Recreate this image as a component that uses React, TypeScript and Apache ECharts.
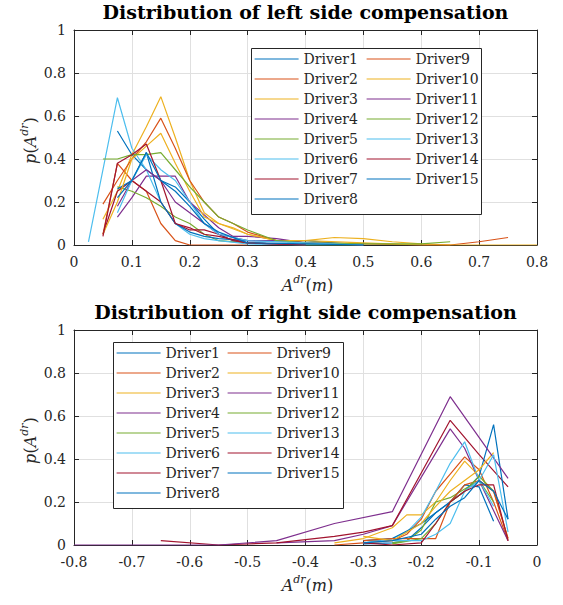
import React, { useEffect, useRef } from "react";
import * as echarts from "echarts";

// ---------- data ----------
const drivers = [
  "Driver1", "Driver2", "Driver3", "Driver4", "Driver5", "Driver6", "Driver7", "Driver8",
  "Driver9", "Driver10", "Driver11", "Driver12", "Driver13", "Driver14", "Driver15",
];
const palette = ["#0072BD", "#D95319", "#EDB120", "#7E2F8E", "#77AC30", "#4DBEEE", "#A2142F"];

const xTicksLeft = [0, 0.8, 0.1];
const xTicksRight = [-0.8, 0, 0.1];
const yTicks = [0, 1, 0.2];

// left side compensation: [A, p]
const L1 = [[0.075, 0.53], [0.1, 0.42], [0.125, 0.35], [0.15, 0.3], [0.175, 0.27], [0.2, 0.2], [0.225, 0.12], [0.25, 0.05], [0.275, 0.02], [0.3, 0.01], [0.35, 0.005], [0.4, 0], [0.5, 0]];
const L2 = [[0.05, 0.05], [0.075, 0.38], [0.1, 0.3], [0.125, 0.25], [0.15, 0.1], [0.175, 0.02], [0.2, 0], [0.225, 0], [0.3, 0]];
const L3 = [[0.05, 0.12], [0.075, 0.25], [0.1, 0.42], [0.125, 0.55], [0.15, 0.69], [0.175, 0.5], [0.2, 0.3], [0.225, 0.15], [0.25, 0.1], [0.275, 0.08], [0.3, 0.05], [0.35, 0.02], [0.4, 0.02], [0.45, 0.035], [0.5, 0.03], [0.55, 0.015], [0.6, 0.005], [0.65, 0]];
const L4 = [[0.075, 0.13], [0.1, 0.22], [0.125, 0.32], [0.15, 0.32], [0.175, 0.32], [0.2, 0.2], [0.225, 0.14], [0.25, 0.08], [0.275, 0.04], [0.3, 0.04], [0.35, 0.03], [0.4, 0.01], [0.45, 0.005], [0.5, 0]];
const L5 = [[0.075, 0.27], [0.1, 0.25], [0.125, 0.22], [0.15, 0.18], [0.175, 0.13], [0.2, 0.1], [0.225, 0.05], [0.25, 0.02], [0.3, 0.01], [0.4, 0], [0.5, 0]];
const L6 = [[0.025, 0.015], [0.075, 0.685], [0.1, 0.45], [0.125, 0.35], [0.15, 0.2], [0.175, 0.1], [0.2, 0.05], [0.225, 0.03], [0.25, 0.02], [0.3, 0.005], [0.4, 0]];
const L7 = [[0.05, 0.05], [0.075, 0.25], [0.1, 0.3], [0.125, 0.25], [0.15, 0.2], [0.175, 0.1], [0.2, 0.07], [0.225, 0.07], [0.25, 0.05], [0.275, 0.02], [0.3, 0.01], [0.4, 0]];
const L8 = [[0.075, 0.26], [0.1, 0.3], [0.125, 0.43], [0.15, 0.2], [0.175, 0.1], [0.2, 0.06], [0.225, 0.04], [0.25, 0.03], [0.3, 0.02], [0.35, 0.02], [0.4, 0.02], [0.45, 0.01], [0.5, 0]];
const L9 = [[0.05, 0.19], [0.075, 0.3], [0.1, 0.4], [0.125, 0.48], [0.15, 0.59], [0.175, 0.45], [0.2, 0.3], [0.225, 0.2], [0.25, 0.13], [0.275, 0.1], [0.3, 0.06], [0.35, 0.02], [0.4, 0.01], [0.5, 0.005], [0.6, 0], [0.65, 0], [0.7, 0.015], [0.75, 0.035]];
const L10 = [[0.05, 0.05], [0.075, 0.2], [0.1, 0.4], [0.125, 0.46], [0.15, 0.52], [0.175, 0.38], [0.2, 0.25], [0.225, 0.13], [0.25, 0.1], [0.3, 0.05], [0.35, 0.02], [0.4, 0.02], [0.5, 0.01], [0.6, 0], [0.7, 0], [0.8, 0]];
const L11 = [[0.075, 0.18], [0.1, 0.3], [0.125, 0.35], [0.15, 0.3], [0.175, 0.2], [0.2, 0.15], [0.225, 0.1], [0.25, 0.05], [0.3, 0.02], [0.35, 0.02], [0.4, 0.01], [0.5, 0]];
const L12 = [[0.05, 0.4], [0.075, 0.4], [0.1, 0.42], [0.125, 0.42], [0.15, 0.43], [0.175, 0.35], [0.2, 0.27], [0.225, 0.2], [0.25, 0.13], [0.3, 0.07], [0.35, 0.02], [0.4, 0.01], [0.5, 0.005], [0.6, 0.005], [0.65, 0.015]];
const L13 = [[0.075, 0.15], [0.1, 0.3], [0.125, 0.42], [0.15, 0.35], [0.175, 0.3], [0.2, 0.2], [0.225, 0.1], [0.25, 0.05], [0.3, 0.02], [0.4, 0.01], [0.5, 0]];
const L14 = [[0.05, 0.04], [0.075, 0.38], [0.1, 0.42], [0.125, 0.47], [0.15, 0.3], [0.175, 0.1], [0.2, 0.08], [0.225, 0.05], [0.25, 0.04], [0.3, 0.01], [0.4, 0]];
const L15 = [[0.075, 0.22], [0.1, 0.3], [0.125, 0.43], [0.15, 0.3], [0.175, 0.25], [0.2, 0.18], [0.225, 0.1], [0.25, 0.06], [0.3, 0.01], [0.4, 0.005], [0.5, 0]];

// right side compensation: [A, p]
const R1 = [[-0.3, 0.005], [-0.25, 0.01], [-0.225, 0.02], [-0.2, 0.08], [-0.175, 0.15], [-0.15, 0.2], [-0.125, 0.28], [-0.1, 0.27], [-0.075, 0.11]];
const R2 = [[-0.35, 0], [-0.3, 0.01], [-0.25, 0.02], [-0.225, 0.05], [-0.2, 0.12], [-0.175, 0.25], [-0.15, 0.33], [-0.125, 0.41], [-0.1, 0.35], [-0.075, 0.2], [-0.05, 0.02]];
const R3 = [[-0.35, 0.01], [-0.3, 0.03], [-0.25, 0.08], [-0.225, 0.14], [-0.2, 0.14], [-0.175, 0.2], [-0.15, 0.3], [-0.125, 0.39], [-0.1, 0.32], [-0.075, 0.25], [-0.05, 0.03]];
const R4 = [[-0.45, 0.01], [-0.35, 0.02], [-0.3, 0.05], [-0.25, 0.09], [-0.15, 0.54], [-0.125, 0.45], [-0.1, 0.3], [-0.05, 0.02]];
const R5 = [[-0.25, 0.01], [-0.225, 0.02], [-0.2, 0.07], [-0.175, 0.2], [-0.15, 0.22], [-0.125, 0.26], [-0.1, 0.3], [-0.075, 0.2]];
const R6 = [[-0.3, 0.01], [-0.25, 0.03], [-0.225, 0.06], [-0.2, 0.13], [-0.175, 0.25], [-0.15, 0.38], [-0.125, 0.48], [-0.1, 0.3], [-0.075, 0.18]];
const R7 = [[-0.65, 0.02], [-0.55, 0], [-0.45, 0.01], [-0.35, 0.04], [-0.3, 0.06], [-0.25, 0.09], [-0.15, 0.58], [-0.1, 0.42], [-0.05, 0.27]];
const R8 = [[-0.3, 0.02], [-0.25, 0.03], [-0.2, 0.1], [-0.175, 0.15], [-0.15, 0.2], [-0.125, 0.25], [-0.1, 0.32], [-0.075, 0.56], [-0.05, 0.12]];
const R9 = [[-0.3, 0.02], [-0.25, 0.03], [-0.2, 0.03], [-0.175, 0.03], [-0.15, 0.2], [-0.125, 0.28], [-0.1, 0.3], [-0.075, 0.25], [-0.05, 0.03]];
const R10 = [[-0.3, 0.04], [-0.25, 0.02], [-0.2, 0.1], [-0.175, 0.18], [-0.15, 0.25], [-0.125, 0.3], [-0.1, 0.35], [-0.075, 0.43]];
const R11 = [[-0.8, 0], [-0.55, 0], [-0.45, 0.02], [-0.35, 0.1], [-0.25, 0.155], [-0.15, 0.69], [-0.05, 0.31]];
const R12 = [[-0.25, 0.005], [-0.2, 0.03], [-0.175, 0.1], [-0.15, 0.2], [-0.125, 0.25], [-0.1, 0.32], [-0.075, 0.25]];
const R13 = [[-0.25, 0.02], [-0.2, 0.02], [-0.175, 0.05], [-0.15, 0.1], [-0.125, 0.25], [-0.1, 0.3], [-0.075, 0.42], [-0.05, 0.06]];
const R14 = [[-0.3, 0.01], [-0.25, 0], [-0.2, 0.01], [-0.175, 0.1], [-0.15, 0.2], [-0.125, 0.25], [-0.1, 0.28], [-0.075, 0.28], [-0.05, 0.02]];
const R15 = [[-0.3, 0.01], [-0.25, 0.02], [-0.2, 0.05], [-0.175, 0.12], [-0.15, 0.18], [-0.125, 0.22], [-0.1, 0.3], [-0.075, 0.25], [-0.05, 0.12]];

const leftData = [L1, L2, L3, L4, L5, L6, L7, L8, L9, L10, L11, L12, L13, L14, L15];
const rightData = [R1, R2, R3, R4, R5, R6, R7, R8, R9, R10, R11, R12, R13, R14, R15];

const titles = ["Distribution of left side compensation", "Distribution of right side compensation"];

// axis-name pieces: [text, italic, small(superscript)]
const xLabelParts: [string, boolean, boolean][] = [["A", true, false], ["dr", true, true], ["(", false, false], ["m", true, false], [")", false, false]];
const yLabelParts: [string, boolean, boolean][] = [["p", true, false], ["(", false, false], ["A", true, false], ["dr", true, true], [")", false, false]];

// ---------- styling ----------
const FONT = "DejaVu Serif";
const TITLE_FONT = "DejaVu Serif";
const AXIS_COLOR = "#262626";
const GRID_COLOR = "#e0e0e0";

const grids = [
  { left: 74, top: 30, width: 463, height: 215 },
  { left: 74, top: 330, width: 463, height: 215 },
];

// approximate advance widths (px) of DejaVu Serif pieces used in axis names
const pieceWidth: Record<string, number> = { A: 11.6, dr: 12.3, "(": 6.3, ")": 6.3, m: 15.2, p: 10.3 };

function buildLabel(parts: [string, boolean, boolean][]) {
  const total = parts.reduce((s, p) => s + pieceWidth[p[0]], 0);
  let x = -total / 2;
  const children: any[] = [];
  parts.forEach(([t, italic, small]) => {
    children.push({
      type: "text", x, y: small ? -6 : 0,
      style: {
        text: t, fill: AXIS_COLOR, fontFamily: FONT, fontStyle: italic ? "italic" : "normal",
        fontSize: small ? 11 : 16, align: "left", verticalAlign: "middle",
      },
    });
    x += pieceWidth[t];
  });
  return children;
}

function App() {
  const ref = useRef<HTMLDivElement>(null);
  useEffect(() => {
    if (!ref.current) return;
    const chart = echarts.init(ref.current, null, { renderer: "svg" });

    const xAxes: any[] = [];
    const yAxes: any[] = [];
    [xTicksLeft, xTicksRight].forEach((t, g) => {
      xAxes.push({
        type: "value", gridIndex: g, position: "bottom", min: t[0], max: t[1], interval: t[2],
        axisLine: { show: true, onZero: false, lineStyle: { color: AXIS_COLOR, width: 1 } },
        axisTick: { show: true, inside: true, length: 5, lineStyle: { color: AXIS_COLOR } },
        axisLabel: { color: AXIS_COLOR, fontFamily: FONT, fontSize: 14, margin: 10 },
        splitLine: { show: true, lineStyle: { color: GRID_COLOR, width: 1 } },
      });
      xAxes.push({
        type: "value", gridIndex: g, position: "top", min: t[0], max: t[1], interval: t[2],
        axisLine: { show: true, onZero: false, lineStyle: { color: AXIS_COLOR, width: 1 } },
        axisTick: { show: true, inside: true, length: 5, lineStyle: { color: AXIS_COLOR } },
        axisLabel: { show: false },
        splitLine: { show: false },
      });
      yAxes.push({
        type: "value", gridIndex: g, position: "left", min: yTicks[0], max: yTicks[1], interval: yTicks[2],
        axisLine: { show: true, onZero: false, lineStyle: { color: AXIS_COLOR, width: 1 } },
        axisTick: { show: true, inside: true, length: 5, lineStyle: { color: AXIS_COLOR } },
        axisLabel: { color: AXIS_COLOR, fontFamily: FONT, fontSize: 14, margin: 8 },
        splitLine: { show: true, lineStyle: { color: GRID_COLOR, width: 1 } },
      });
      yAxes.push({
        type: "value", gridIndex: g, position: "right", min: yTicks[0], max: yTicks[1], interval: yTicks[2],
        axisLine: { show: true, onZero: false, lineStyle: { color: AXIS_COLOR, width: 1 } },
        axisTick: { show: true, inside: true, length: 5, lineStyle: { color: AXIS_COLOR } },
        axisLabel: { show: false },
        splitLine: { show: false },
      });
    });

    const series: any[] = [];
    [leftData, rightData].forEach((set, g) => {
      set.forEach((d, i) => {
        const c = palette[i % palette.length];
        series.push({
          type: "line", name: drivers[i], xAxisIndex: g * 2, yAxisIndex: g * 2,
          data: d, symbol: "none", showSymbol: false, silent: true,
          lineStyle: { color: c, width: 1.2 }, itemStyle: { color: c },
          emphasis: { disabled: true },
        });
      });
    });

    const legendBase = {
      orient: "vertical", itemWidth: 44, itemHeight: 14, itemGap: 4, padding: 0,
      selectedMode: false,
      itemStyle: { opacity: 0, borderWidth: 0 },
      lineStyle: { width: 1.2, opacity: 1 },
      textStyle: { color: AXIS_COLOR, fontFamily: FONT, fontSize: 14, lineHeight: 16 },
    };
    const legendPos = [
      { c1: 254, c2: 366, top: 51 },
      { c1: 116, c2: 227, top: 345 },
    ];
    const legends: any[] = [];
    legendPos.forEach((p) => {
      legends.push({ ...legendBase, left: p.c1, top: p.top, data: drivers.slice(0, 8) });
      legends.push({ ...legendBase, left: p.c2, top: p.top, data: drivers.slice(8) });
    });

    const boxes = [
      { x: 251, y: 48, w: 230, h: 166 },
      { x: 113, y: 342, w: 230, h: 166 },
    ];

    const graphic: any[] = [];
    boxes.forEach((b) => {
      graphic.push({
        type: "rect", z: 3, shape: { x: b.x + 0.5, y: b.y + 0.5, width: b.w, height: b.h },
        style: { fill: "#ffffff", stroke: AXIS_COLOR, lineWidth: 1 },
      });
    });
    grids.forEach((gr, g) => {
      const cx = gr.left + gr.width / 2;
      graphic.push({
        type: "text", x: cx, y: gr.top - 18,
        style: { text: titles[g], fill: "#000", fontFamily: TITLE_FONT, fontWeight: "bold", fontSize: 19, align: "center", verticalAlign: "middle" },
      });
      graphic.push({ type: "group", x: cx + 2, y: gr.top + gr.height + 40, children: buildLabel(xLabelParts) });
      graphic.push({ type: "group", x: 30, y: gr.top + gr.height / 2 + 3, rotation: Math.PI / 2, children: buildLabel(yLabelParts) });
    });

    chart.setOption({
      animation: false,
      backgroundColor: "#ffffff",
      grid: grids.map((g) => ({ ...g, containLabel: false })),
      xAxis: xAxes,
      yAxis: yAxes,
      legend: legends,
      series,
      graphic,
    });
    return () => chart.dispose();
  }, []);
  return <div ref={ref} style={{ position: "fixed", left: 0, top: 0, width: 563, height: 605 }} />;
}

export default App;
